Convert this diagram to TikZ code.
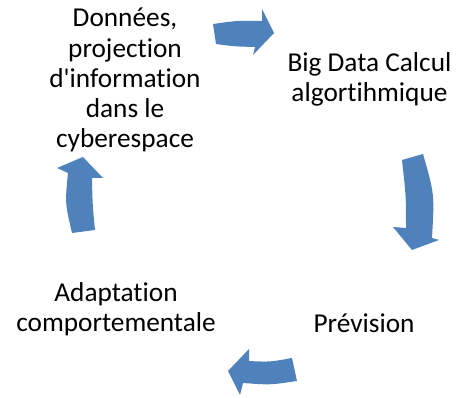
\documentclass[tikz,border=0pt]{standalone}
\usepackage{fontspec}
\setmainfont{Carlito}[Ligatures={TeXOff,NoCommon}]
\definecolor{arrowblue}{HTML}{4F81BD}
\begin{document}
\begin{tikzpicture}[x=1pt,y=-1pt,
  label/.style={inner sep=0pt, align=center, anchor=base, font=\fontsize{27.3}{30.3}\selectfont, text=black},
  cyclearrow/.style={fill=arrowblue, draw=none}]
\useasboundingbox (0,0) rectangle (456,398);
% texts (anchor = baseline of the last line)
\node[label] (donnees) at (125,148) {Données,\\projection\\d'information\\dans le\\cyberespace};
\node[label] (bigdata) at (369.5,102) {Big Data Calcul\\algortihmique};
\node[label] (prevision) at (364,333) {Prévision};
\node[label] (adaptation) at (116,332) {Adaptation\\comportementale};
% arrow top (right)
\fill[cyclearrow] (213,24) .. controls (238,20.5) .. (262,21) -- (262,9) -- (274,33) -- (253,55) -- (255,47)
  .. controls (235,46.5) .. (216,44) -- cycle;
% arrow right (down)
\fill[cyclearrow] (402,160) .. controls (406,196) .. (406,228) -- (393,227) -- (412,250) -- (439,240) -- (432,238)
  .. controls (434.5,194) .. (423,154) -- cycle;
% arrow bottom (left)
\fill[cyclearrow] (292,358) .. controls (270,362) .. (249,361) -- (249,349) -- (228,371) -- (240,395) -- (243,383)
  .. controls (270,385) .. (297,381) -- cycle;
% arrow left (up)
\fill[cyclearrow] (72,233) .. controls (65,203) .. (68,173) -- (57,168) -- (83,157) -- (103,178) -- (92,178)
  .. controls (92.5,204) .. (95,230) -- cycle;
\end{tikzpicture}
\end{document}
